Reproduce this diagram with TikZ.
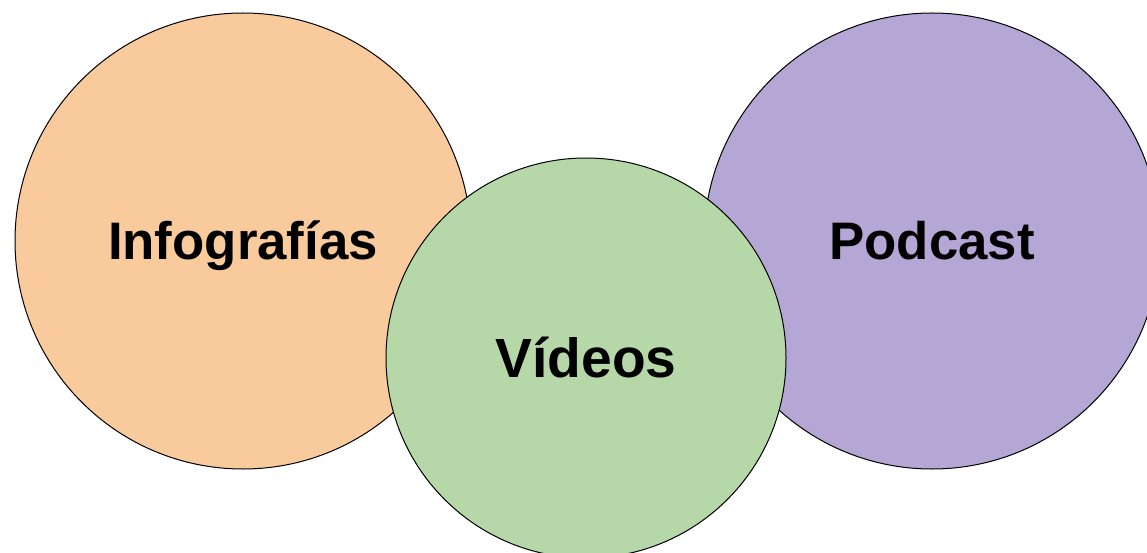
\documentclass[tikz,border=0pt]{standalone}
\usepackage{fontspec}
\setmainfont{Liberation Sans}
\definecolor{naranja}{HTML}{F9CB9C}
\definecolor{lila}{HTML}{B4A7D6}
\definecolor{verde}{HTML}{B6D7A8}
\begin{document}
\begin{tikzpicture}[x=1pt,y=-1pt,
  burbuja/.style={circle, draw=black, line width=1pt, inner sep=0pt,
    minimum size=456pt, text depth=0pt},
  grande/.style={text height=37.8pt, font=\fontsize{52.8}{60}\selectfont\bfseries},
  mayor/.style={text height=39.6pt, font=\fontsize{55.2}{62}\selectfont\bfseries}]
\useasboundingbox (0,0) rectangle (1147,553) ;

\node [burbuja, grande, fill=naranja] (info) at (243,241) {Infograf\'ias} ;
\node [burbuja, grande, fill=lila] (podcast) at (932,241) {Podcast} ;
\node [burbuja, mayor, fill=verde, minimum size=400pt] (videos) at (586,358) {V\'ideos} ; % encima de las otras dos

\end{tikzpicture}
\end{document}
